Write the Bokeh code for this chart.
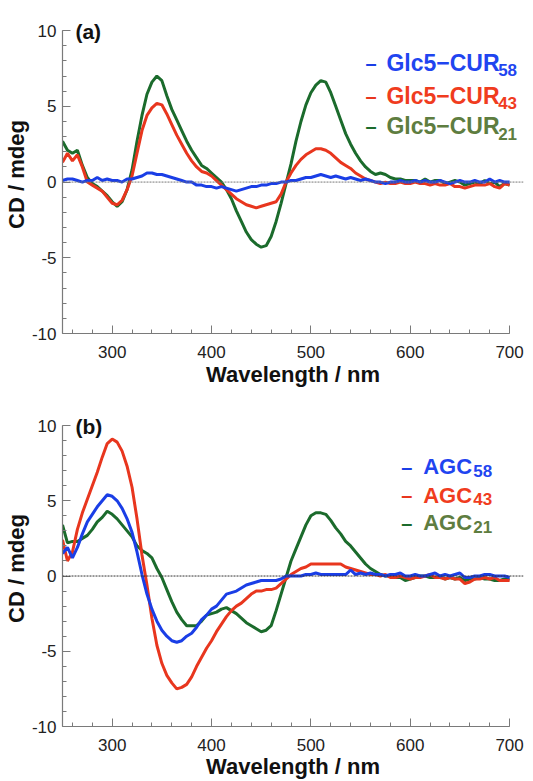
from bokeh.plotting import figure
from bokeh.models import Span, Label, FixedTicker, Range1d
from bokeh.layouts import column
from bokeh.embed import file_html
from bokeh.resources import INLINE

# ---------------- data ----------------
wavelength = list(range(250, 705, 5))

cur21 = [2.7, 2.1, 1.9, 2.1, 1.1, 0.3, -0.1, -0.3, -0.6, -0.9,
         -1.3, -1.6, -1.3, -0.5, 0.8, 2.7, 4.4, 5.8, 6.6, 7.0,
         6.7, 5.7, 4.8, 4.1, 3.4, 2.7, 2.1, 1.6, 1.1, 0.9,
         0.6, 0.3, 0.0, -0.5, -1.1, -1.9, -2.6, -3.3, -3.8, -4.1,
         -4.3, -4.2, -3.6, -2.6, -1.4, -0.1, 1.2, 2.7, 4.0, 5.1,
         5.9, 6.4, 6.7, 6.6, 5.9, 5.0, 4.1, 3.2, 2.5, 1.9,
         1.4, 1.0, 0.7, 0.5, 0.6, 0.5, 0.3, 0.2, 0.2, 0.1,
         0.1, 0.1, 0.0, 0.2, 0.0, 0.1, 0.1, -0.1, 0.0, 0.1,
         0.0, -0.2, -0.1, 0.0, -0.1, 0.1, -0.1, 0.0, -0.3, -0.1,
         -0.2]

cur43 = [1.3, 1.9, 1.4, 1.8, 1.0, 0.0, -0.2, -0.4, -0.6, -1.0,
         -1.4, -1.5, -1.2, -0.5, 0.4, 1.9, 3.4, 4.4, 4.9, 5.2,
         5.1, 4.5, 3.8, 3.1, 2.5, 1.9, 1.4, 1.0, 0.7, 0.6,
         0.4, 0.1, -0.2, -0.5, -0.8, -1.1, -1.3, -1.5, -1.6, -1.7,
         -1.6, -1.5, -1.4, -1.3, -0.8, 0.0, 0.6, 1.1, 1.5, 1.8,
         2.0, 2.2, 2.2, 2.1, 1.9, 1.6, 1.3, 1.1, 0.9, 0.6,
         0.4, 0.2, 0.1, 0.0, -0.1, 0.0, -0.1, -0.1, 0.0, -0.1,
         -0.1, 0.0, -0.1, -0.1, -0.2, -0.1, -0.2, -0.2, -0.1, -0.3,
         -0.3, -0.4, -0.3, -0.2, -0.2, -0.2, -0.1, -0.3, -0.4, -0.1,
         -0.2]

cur58 = [0.1, 0.2, 0.2, 0.1, 0.0, 0.1, 0.1, 0.3, 0.1, 0.2,
         0.1, 0.1, 0.0, 0.2, 0.2, 0.3, 0.4, 0.6, 0.6, 0.5,
         0.5, 0.4, 0.3, 0.2, 0.1, 0.0, 0.0, -0.2, -0.2, -0.3,
         -0.3, -0.4, -0.3, -0.4, -0.5, -0.6, -0.5, -0.4, -0.3, -0.3,
         -0.2, -0.2, -0.1, -0.1, 0.0, 0.0, 0.1, 0.1, 0.2, 0.3,
         0.3, 0.4, 0.5, 0.4, 0.3, 0.4, 0.3, 0.2, 0.3, 0.2,
         0.1, 0.2, 0.1, 0.0, 0.0, -0.1, 0.0, 0.0, 0.1, 0.0,
         0.0, 0.1, 0.0, 0.1, 0.0, 0.0, 0.1, 0.0, -0.1, 0.0,
         0.1, 0.0, 0.0, 0.1, 0.0, 0.0, 0.2, 0.0, 0.1, 0.0,
         0.0]

agc43 = [2.4, 1.0, 1.6, 3.1, 4.2, 5.1, 6.0, 6.9, 7.9, 8.8,
         9.1, 8.9, 8.3, 7.3, 5.9, 3.8, 1.4, -0.6, -2.8, -4.6,
         -5.8, -6.6, -7.1, -7.5, -7.4, -7.2, -6.7, -6.0, -5.4, -4.8,
         -4.3, -3.7, -3.2, -2.7, -2.3, -2.0, -1.8, -1.5, -1.2, -1.0,
         -1.0, -0.9, -0.9, -0.8, -0.5, -0.2, 0.1, 0.3, 0.5, 0.6,
         0.8, 0.8, 0.8, 0.8, 0.8, 0.8, 0.8, 0.6, 0.5, 0.4,
         0.3, 0.2, 0.1, 0.1, 0.0, 0.1, -0.1, -0.1, 0.0, -0.1,
         -0.2, -0.1, -0.1, 0.0, 0.1, -0.1, -0.1, -0.2, -0.1, -0.2,
         -0.2, -0.5, -0.4, -0.2, -0.2, -0.1, -0.2, -0.1, -0.3, -0.3,
         -0.3]

agc58 = [1.5, 1.9, 1.2, 1.9, 2.8, 3.6, 4.1, 4.6, 5.0, 5.4,
         5.3, 5.0, 4.5, 3.8, 2.9, 1.6, 0.1, -1.2, -2.2, -3.0,
         -3.6, -4.0, -4.3, -4.4, -4.3, -4.0, -3.8, -3.4, -2.9, -2.6,
         -2.2, -2.0, -1.6, -1.2, -1.1, -1.0, -0.8, -0.6, -0.5, -0.4,
         -0.3, -0.3, -0.3, -0.3, -0.2, 0.0, 0.0, 0.0, 0.0, 0.1,
         0.1, 0.2, 0.1, 0.1, 0.1, 0.1, 0.1, 0.1, 0.4, 0.1,
         0.2, 0.1, 0.2, 0.1, 0.1, 0.0, 0.1, 0.1, 0.2, 0.0,
         0.0, 0.1, 0.0, 0.0, 0.1, 0.2, 0.0, 0.1, 0.0, 0.1,
         0.2, -0.1, -0.1, 0.0, 0.0, 0.1, 0.1, 0.0, 0.0, 0.0,
         -0.1]

agc21 = [3.4, 2.2, 2.3, 2.3, 2.5, 2.7, 3.1, 3.6, 3.9, 4.3,
         4.1, 3.8, 3.4, 3.0, 2.6, 2.0, 1.7, 1.5, 1.2, 0.5,
         -0.1, -0.9, -1.7, -2.4, -2.9, -3.3, -3.3, -3.3, -3.0, -2.6,
         -2.5, -2.4, -2.2, -2.1, -2.3, -2.5, -2.8, -3.1, -3.3, -3.5,
         -3.7, -3.6, -3.3, -2.3, -1.2, -0.1, 1.0, 1.8, 2.6, 3.4,
         4.0, 4.2, 4.2, 4.1, 3.7, 3.2, 2.8, 2.3, 2.0, 1.6,
         1.2, 0.8, 0.5, 0.3, 0.1, 0.0, 0.0, -0.1, -0.1, -0.3,
         -0.2, -0.1, 0.0, 0.0, -0.1, -0.1, 0.0, -0.2, -0.1, -0.2,
         -0.1, -0.3, -0.2, -0.2, -0.1, -0.2, -0.2, -0.3, -0.3, -0.2,
         -0.2]

x_major = [300, 400, 500, 600, 700]
x_labels = ["300", "400", "500", "600", "700"]
y_major = [-10, -5, 0, 5, 10]
y_labels = ["-10", "-5", "0", "5", "10"]

names_a = ["Glc5\u2212CUR", "Glc5\u2212CUR", "Glc5\u2212CUR"]
names_b = ["AGC", "AGC", "AGC"]
subs = ["58", "43", "21"]

BLUE = "#1a3ee6"
RED = "#e8361e"
GREEN = "#1b6b2c"
TEXT_COLORS = ["#1f45f0", "#f03c1e", "#5e7d40"]
FONT = "Liberation Sans"


def make_panel(tag, series, names, height, b_top, b_bottom, lab_standoff,
               leg, zero_color):
    p = figure(width=525, height=height, output_backend="svg",
               toolbar_location=None,
               x_range=Range1d(250, 714), y_range=Range1d(-10, 11),
               min_border_left=56, min_border_right=2,
               min_border_top=b_top, min_border_bottom=b_bottom)
    p.outline_line_color = None
    p.grid.visible = False
    p.background_fill_color = "white"
    p.border_fill_color = "white"

    p.add_layout(Span(location=0, dimension="width", line_color=zero_color,
                      line_dash="2 1", line_width=1))

    for ys, c in series:
        p.line(wavelength, ys, line_color=c, line_width=3)

    p.xaxis.ticker = FixedTicker(ticks=x_major,
                                 minor_ticks=list(range(260, 701, 20)))
    p.yaxis.ticker = FixedTicker(ticks=y_major,
                                 minor_ticks=list(range(-10, 11)))
    p.xaxis.major_label_overrides = dict(zip(x_major, x_labels))
    p.yaxis.major_label_overrides = dict(zip(y_major, y_labels))
    p.xaxis.bounds = (250, 700)
    p.yaxis.bounds = (-10, 10)
    for ax in (p.xaxis[0], p.yaxis[0]):
        ax.axis_line_color = "#7a7a7a"
        ax.axis_line_width = 1.2
        ax.major_tick_line_color = "#7a7a7a"
        ax.minor_tick_line_color = "#7a7a7a"
        ax.major_tick_in = 8
        ax.major_tick_out = 0
        ax.minor_tick_in = 4
        ax.minor_tick_out = 0
        ax.major_label_text_font = FONT
        ax.major_label_text_font_size = "17px"
        ax.major_label_text_color = "#222222"
        ax.axis_label_text_font = FONT
        ax.axis_label_text_font_style = "bold"
        ax.axis_label_text_font_size = "22px"
        ax.axis_label_text_color = "#111111"
    p.xaxis.axis_label = "Wavelength / nm"
    p.yaxis.axis_label = "CD / mdeg"
    p.xaxis.major_label_standoff = 12
    p.xaxis.axis_label_standoff = lab_standoff
    p.yaxis.major_label_standoff = 6
    p.yaxis.axis_label_standoff = 0

    p.add_layout(Label(x=263, y=9.93, text=tag, text_font=FONT,
                       text_font_style="bold", text_font_size="21px",
                       text_color="#111111", text_baseline="alphabetic"))

    x_dash, x_text, x_sub, ys, sub_drop, fsize = leg
    for i in range(3):
        col = TEXT_COLORS[i]
        p.add_layout(Label(x=x_dash, y=ys[i], text="\u2013",
                           text_font=FONT, text_font_style="bold",
                           text_font_size="20px", text_color=series[2 - i][1],
                           text_baseline="alphabetic"))
        p.add_layout(Label(x=x_text, y=ys[i], text=names[i],
                           text_font=FONT, text_font_style="bold",
                           text_font_size=fsize, text_color=col,
                           text_baseline="alphabetic"))
        p.add_layout(Label(x=x_sub, y=ys[i] - sub_drop, text=subs[i],
                           text_font=FONT, text_font_style="bold",
                           text_font_size="17px", text_color=col,
                           text_baseline="alphabetic"))
    return p


pa = make_panel("(a)", [(cur21, GREEN), (cur43, RED), (cur58, BLUE)], names_a,
                394, 15, 61, 1,
                (555, 576, 688.5, [7.87, 5.71, 3.68], 0.5, "23px"), "#777777")
pb = make_panel("(b)", [(agc21, GREEN), (agc43, RED), (agc58, BLUE)], names_b,
                387, 16, 53, 0,
                (591, 613, 663.5, [7.25, 5.38, 3.53], 0.27, "22px"), "#333333")

layout = column(pa, pb)
open("out.html", "w").write(file_html(layout, INLINE))
